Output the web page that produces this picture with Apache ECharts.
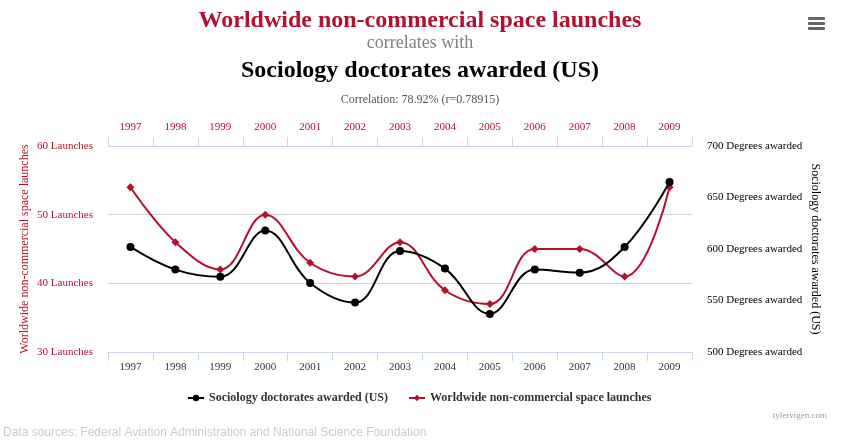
<!DOCTYPE html>
<html>
<head>
<meta charset="utf-8">
<script src="https://cdn.jsdelivr.net/npm/echarts@6/dist/echarts.min.js"></script>
<style>
html,body{margin:0;padding:0;background:#fff;}
#chart{width:847px;height:446px;}
</style>
</head>
<body>
<div id="chart"></div>
<script>
var years = ['1997','1998','1999','2000','2001','2002','2003','2004','2005','2006','2007','2008','2009'];
var launches = [54, 46, 42, 50, 43, 41, 46, 39, 37, 45, 45, 41, 54];
var doctorates = [602, 580, 573, 618, 567, 548, 598, 581, 537, 580, 577, 602, 665];
var launchTicks = [30, 40, 50, 60];
var degreeTicks = [500, 550, 600, 650, 700];

var RED = '#b3112e';
var SERIF = '"Liberation Serif","Times New Roman",serif';
function txt(text, x, y, size, weight, color, family, align) {
  return {type: 'text', x: x, y: y, silent: true,
    style: {text: text, fontSize: size, fontWeight: weight, fontFamily: family || SERIF, fill: color,
      align: align || 'center', verticalAlign: 'middle', textAlign: align || 'center', textVerticalAlign: 'middle'}};
}
var chart = echarts.init(document.getElementById('chart'), null, {renderer:'canvas'});
chart.setOption({
  backgroundColor: '#ffffff',
  animation: false,
  textStyle: {fontFamily: SERIF},
  graphic: [
    txt('Worldwide non-commercial space launches', 420, 20.6, 24, 'bold', RED),
    txt('correlates with', 420, 43.6, 18, 'normal', '#808080'),
    txt('Sociology doctorates awarded (US)', 420, 71, 24, 'bold', '#000'),
    txt('Correlation: 78.92% (r=0.78915)', 420, 99.6, 12, 'normal', '#555'),
    txt('tylervigen.com', 827, 415.5, 9, 'normal', '#999', SERIF, 'right'),
    txt('Data sources: Federal Aviation Administration and National Science Foundation', 3, 432.5, 12, 'normal', '#cccccc', '"Liberation Sans",Arial,sans-serif', 'left'),
    {type: 'rect', right: 22, top: 17, shape: {width: 17, height: 3, r: 1}, style: {fill: '#666'}},
    {type: 'rect', right: 22, top: 22, shape: {width: 17, height: 3, r: 1}, style: {fill: '#666'}},
    {type: 'rect', right: 22, top: 27, shape: {width: 17, height: 3, r: 1}, style: {fill: '#666'}}
  ],
  legend: {
    bottom: 37, left: 182, itemGap: 20, itemWidth: 16, itemHeight: 8,
    textStyle: {fontFamily: SERIF, fontSize: 12, fontWeight: 'bold', color: '#333'},
    data: ['Sociology doctorates awarded (US)', 'Worldwide non-commercial space launches']
  },
  grid: {left: 108, right: 155, top: 146, bottom: 94, containLabel: false},
  xAxis: [
    {type: 'category', data: years, position: 'bottom', boundaryGap: true,
     axisLine: {lineStyle: {color: '#ccd6eb'}},
     axisTick: {show: true, length: 9, lineStyle: {color: '#ccd6eb'}},
     axisLabel: {color: '#333', fontSize: 11, fontFamily: SERIF, margin: 10}},
    {type: 'category', data: years, position: 'top', boundaryGap: true,
     axisLine: {lineStyle: {color: '#ccd6eb'}},
     axisTick: {show: true, length: 9, lineStyle: {color: '#ccd6eb'}},
     axisLabel: {color: RED, fontSize: 11, fontFamily: SERIF, margin: 13}}
  ],
  yAxis: [
    {type: 'value', position: 'left', min: launchTicks[0], max: launchTicks[launchTicks.length-1], interval: 10,
     name: 'Worldwide non-commercial space launches', nameLocation: 'middle', nameGap: 77, nameRotate: 90,
     nameMoveOverlap: false,
     nameTextStyle: {color: RED, fontSize: 12, fontFamily: SERIF},
     axisLine: {show: false}, axisTick: {show: false},
     splitLine: {show: true, lineStyle: {color: '#d4d4d4'}},
     axisLabel: {color: RED, fontSize: 11, fontFamily: SERIF, margin: 15, formatter: '{value} Launches'}},
    {type: 'value', position: 'right', min: degreeTicks[0], max: degreeTicks[degreeTicks.length-1], interval: 50,
     name: 'Sociology doctorates awarded (US)', nameLocation: 'middle', nameGap: 117, nameRotate: -90,
     nameMoveOverlap: false,
     nameTextStyle: {color: '#000', fontSize: 12, fontFamily: SERIF},
     axisLine: {show: false}, axisTick: {show: false},
     splitLine: {show: false},
     axisLabel: {color: '#000', fontSize: 11, fontFamily: SERIF, margin: 15, formatter: '{value} Degrees awarded'}}
  ],
  series: [
    {name: 'Sociology doctorates awarded (US)', type: 'line', xAxisIndex: 0, yAxisIndex: 1,
     data: doctorates, smooth: 0.4, symbol: 'circle', symbolSize: 8,
     lineStyle: {color: '#000', width: 2}, itemStyle: {color: '#000'}, z: 3},
    {name: 'Worldwide non-commercial space launches', type: 'line', xAxisIndex: 1, yAxisIndex: 0,
     data: launches, smooth: 0.4, symbol: 'diamond', symbolSize: 8,
     lineStyle: {color: RED, width: 2}, itemStyle: {color: RED}, z: 2}
  ]
});
</script>
</body>
</html>
